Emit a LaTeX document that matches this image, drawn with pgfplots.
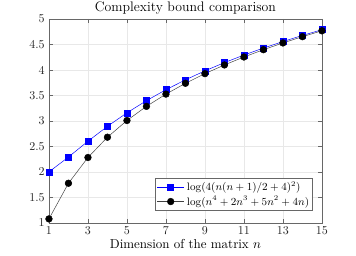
\documentclass[border=0pt]{standalone}
\usepackage{pgfplots}
\pgfplotsset{compat=1.18}
\definecolor{mgray}{RGB}{38,38,38}
\begin{document}
\begin{tikzpicture}
\begin{axis}[
  name=ax,
  scale only axis,
  width=227.5pt, height=170pt,
  xmin=1, xmax=15, ymin=1, ymax=5,
  xtick={1,3,...,15},
  ytick={1,1.5,...,5},
  yticklabels={1,1.5,2,2.5,3,3.5,4,4.5,5},
  grid=major,
  grid style={gray!18, line width=0.4pt},
  tick align=inside,
  major tick length=3pt,
  axis line style={mgray!70},
  tick style={mgray!70},
  ticklabel style={text=mgray},
  title={Complexity bound comparison},
  xlabel={Dimension of the matrix $n$},
  title style={yshift=-6pt, font=\fontsize{11.5pt}{13pt}\selectfont},
  xlabel style={yshift=3pt, font=\fontsize{10.8pt}{12pt}\selectfont},
  legend style={at={(0.967,0.059)}, anchor=south east, font=\small, draw=mgray!70, inner sep=1pt, row sep=-1pt},
  legend cell align=left,
  legend image code/.code={\draw[mark repeat=2,mark phase=2,#1] plot coordinates {(0cm,0cm) (0.4cm,0cm) (0.8cm,0cm)};},
]
\addplot[blue, mark=square*, mark size=2.5pt, mark options={fill=blue}] coordinates {
(1,2.0000) (2,2.2923) (3,2.6021) (4,2.8943) (5,3.1596) (6,3.3979) (7,3.6124) (8,3.8062)
(9,3.9825) (10,4.1438) (11,4.2923) (12,4.4297) (13,4.5575) (14,4.6769) (15,4.7889)};
\addlegendentry{$\log(4(n(n+1)/2+4)^2)$}
\addplot[black!75, mark=*, mark size=2.8pt, mark options={fill=black, draw=black}] coordinates {
(1,1.0792) (2,1.7782) (3,2.2833) (4,2.6812) (5,3.0086) (6,3.2860) (7,3.5263) (8,3.7381)
(9,3.9274) (10,4.0983) (11,4.2541) (12,4.3972) (13,4.5296) (14,4.6527) (15,4.7676)};
\addlegendentry{$\log(n^4+2n^3+5n^2+4n)$}
\end{axis}
\pgfresetboundingbox
\path[use as bounding box] ([shift={(-40.8pt,-27.5pt)}]ax.south west) rectangle ([shift={(28.4pt,15.8pt)}]ax.north east);
\end{tikzpicture}
\end{document}
